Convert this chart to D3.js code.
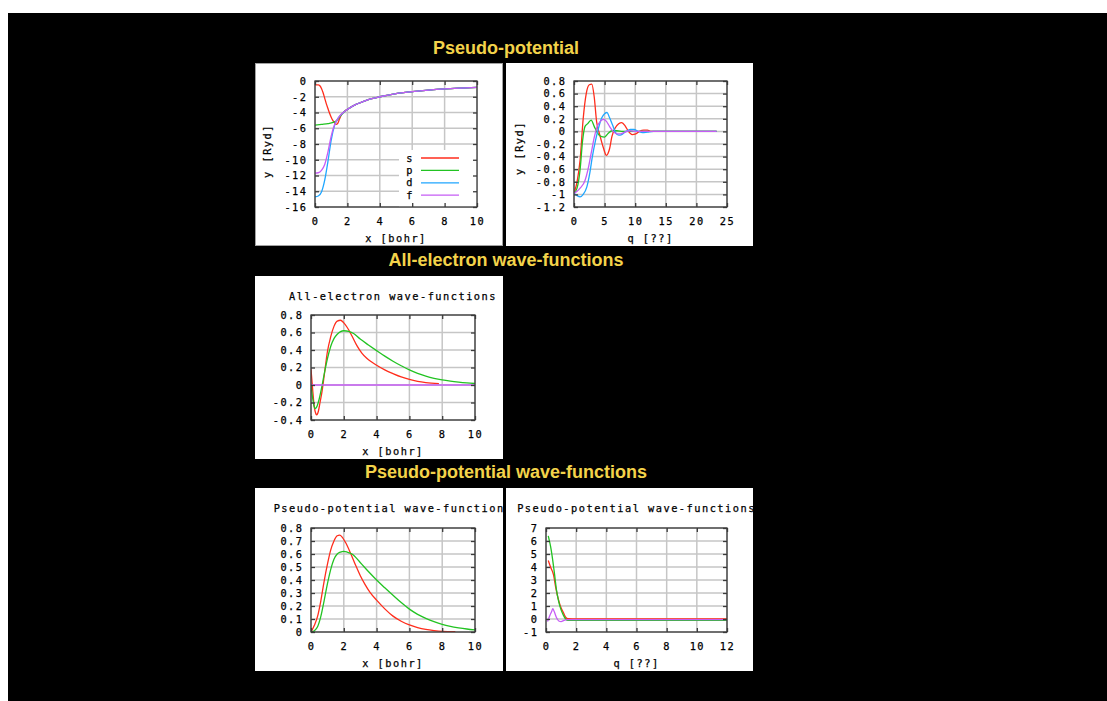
<!DOCTYPE html>
<html>
<head>
<meta charset="utf-8">
<script src="https://cdn.jsdelivr.net/npm/d3@7"></script>
<style>
  html, body { margin: 0; padding: 0; background: #fff; }
  svg { display: block; }
  .mono { font-family: "DejaVu Sans Mono", monospace; font-size: 10.3px; letter-spacing: 1.5px; fill: #000; stroke: #000; stroke-width: 0.25px; }
  .section { font-family: "Liberation Sans", Arial, sans-serif; font-weight: bold; font-size: 18px; fill: #f3d34a; }
</style>
</head>
<body>
<svg id="chart" width="1107" height="701"></svg>
<script>
// ---------- data ----------
// Pseudo-potentials V(r) per angular channel (Ryd), r in bohr
const potentialTail = [[1.8,-3.9],[2.0,-3.6],[2.5,-3.0],[3.0,-2.6],[3.5,-2.25],[4.0,-2.0],[5,-1.6],[6,-1.35],[7,-1.15],[8,-1.0],[9,-0.9],[10,-0.82]];
const potentialS = [[0,-0.5],[0.2,-0.5],[0.3,-0.6],[0.4,-0.95],[0.5,-1.5],[0.6,-2.2],[0.7,-2.9],[0.8,-3.5],[0.9,-4.1],[1.0,-4.6],[1.1,-5.0],[1.2,-5.3],[1.3,-5.5],[1.4,-5.4],[1.5,-4.9],[1.6,-4.4]];
const potentialP = [[0,-5.6],[0.4,-5.5],[0.8,-5.4],[1.2,-5.2],[1.4,-4.9],[1.6,-4.35]];
const potentialD = [[0,-14.7],[0.2,-14.6],[0.4,-14.1],[0.6,-12.6],[0.8,-10.2],[1.0,-7.5],[1.2,-5.7],[1.4,-4.8],[1.6,-4.3]];
const potentialF = [[0,-11.7],[0.2,-11.65],[0.4,-11.35],[0.6,-10.6],[0.8,-9.0],[1.0,-7.0],[1.2,-5.6],[1.4,-4.8],[1.6,-4.25]];
const channelNames = ["s","p","d","f"];
const potentialXTicks = [0,2,4,6,8,10];
const potentialYTicks = [0,-2,-4,-6,-8,-10,-12,-14,-16];

// Fourier transforms of the pseudo-potentials
const potentialQS = [[0,-0.98],[0.5,-0.8],[1,-0.45],[1.5,0.2],[2,0.6],[2.5,0.74],[2.9,0.75],[3.3,0.55],[3.7,0.15],[4.2,-0.05],[4.8,-0.26],[5.3,-0.38],[5.8,-0.28],[6.2,-0.08],[6.7,0.05],[7.3,0.12],[7.8,0.14],[8.4,0.08],[8.9,0.0],[9.5,-0.05],[10.1,-0.04],[10.7,0.0],[11.4,0.02],[12,0.02],[12.6,0.0],[13.5,0.0],[23.3,0.0]];
const potentialQP = [[0,-0.98],[0.5,-0.9],[1,-0.6],[1.4,-0.15],[1.8,0.08],[2.2,0.12],[2.8,0.18],[3.3,0.08],[3.8,-0.02],[4.4,-0.08],[5.0,-0.09],[5.6,-0.03],[6.2,0.01],[7,0.01],[8,0],[23.3,0]];
const potentialQD = [[0,-0.98],[0.5,-1.02],[1,-1.04],[1.5,-1.0],[2.1,-0.88],[2.6,-0.65],[3.0,-0.4],[3.5,-0.15],[4.0,0.05],[4.5,0.21],[5.0,0.28],[5.4,0.3],[5.8,0.22],[6.3,0.1],[6.8,-0.02],[7.3,-0.06],[7.8,-0.05],[8.5,0.0],[9.2,0.03],[9.8,0.03],[10.5,0.0],[11.2,-0.02],[12,-0.01],[13,0],[23.3,0]];
const potentialQF = [[0,-0.98],[0.5,-0.95],[1,-0.9],[1.8,-0.78],[2.3,-0.6],[2.8,-0.35],[3.3,-0.1],[3.8,0.08],[4.3,0.16],[4.8,0.19],[5.3,0.16],[5.8,0.08],[6.4,0.0],[7.0,-0.04],[7.6,-0.04],[8.3,-0.01],[9.2,0.01],[10,0],[23.3,0]];
const potentialQXTicks = [0,5,10,15,20,25];
const potentialQYTicks = [0.8,0.6,0.4,0.2,0,-0.2,-0.4,-0.6,-0.8,-1,-1.2];

// All-electron radial wave-functions
const allElectronS = [[0,0.18],[0.1,-0.05],[0.2,-0.25],[0.3,-0.33],[0.35,-0.34],[0.45,-0.3],[0.55,-0.2],[0.65,-0.1],[0.8,0.1],[1.0,0.38],[1.2,0.55],[1.4,0.67],[1.6,0.73],[1.8,0.74],[2.0,0.71],[2.2,0.66],[2.5,0.56],[2.8,0.45],[3.1,0.365],[3.4,0.305],[3.7,0.262],[4.0,0.225],[4.5,0.172],[5.0,0.13],[5.5,0.092],[6.0,0.063],[6.5,0.042],[7.0,0.028],[7.8,0.015]];
const allElectronP = [[0,0.0],[0.1,-0.15],[0.2,-0.25],[0.25,-0.27],[0.35,-0.25],[0.5,-0.16],[0.65,-0.03],[0.8,0.12],[1.0,0.3],[1.2,0.44],[1.4,0.53],[1.6,0.58],[1.8,0.61],[2.0,0.62],[2.3,0.612],[2.6,0.588],[3.0,0.525],[3.5,0.458],[4.0,0.393],[4.5,0.33],[5.0,0.272],[5.5,0.22],[6.0,0.172],[6.5,0.133],[7.0,0.102],[7.5,0.077],[8.0,0.058],[8.5,0.044],[9,0.033],[9.5,0.024],[10,0.017]];
const allElectronD = [[0,0],[10,0]];
const waveXTicks = [0,2,4,6,8,10];
const allElectronYTicks = [0.8,0.6,0.4,0.2,0,-0.2,-0.4];

// Pseudo wave-functions in real space
const pseudoWaveS = [[0,0],[0.2,0.05],[0.4,0.12],[0.6,0.24],[0.8,0.39],[1.0,0.52],[1.2,0.63],[1.4,0.7],[1.6,0.74],[1.75,0.745],[1.9,0.73],[2.1,0.69],[2.4,0.61],[2.7,0.52],[3.0,0.435],[3.3,0.365],[3.6,0.305],[4.0,0.245],[4.5,0.178],[5.0,0.122],[5.5,0.083],[6.0,0.054],[6.5,0.034],[7.0,0.02],[7.5,0.011],[8.0,0.005],[8.8,0.002]];
const pseudoWaveP = [[0,0],[0.2,0.01],[0.4,0.04],[0.6,0.12],[0.8,0.24],[1.0,0.37],[1.2,0.48],[1.4,0.56],[1.6,0.6],[1.8,0.615],[2.0,0.62],[2.2,0.615],[2.5,0.6],[3.0,0.535],[3.5,0.465],[4.0,0.4],[4.5,0.34],[5.0,0.282],[5.5,0.226],[6.0,0.176],[6.5,0.136],[7.0,0.105],[7.5,0.079],[8.0,0.058],[8.5,0.043],[9,0.032],[9.5,0.023],[10,0.016]];
const pseudoWaveYTicks = [0.8,0.7,0.6,0.5,0.4,0.3,0.2,0.1,0];

// Pseudo wave-functions in reciprocal space
const pseudoWaveQS = [[0.15,4.5],[0.3,4.0],[0.5,3.4],[0.65,2.4],[0.8,1.6],[0.95,1.0],[1.15,0.5],[1.3,0.15],[1.45,0.02],[2,0],[12,0]];
const pseudoWaveQP = [[0.15,6.4],[0.3,5.6],[0.4,4.9],[0.55,3.6],[0.7,2.2],[0.85,1.3],[1.0,0.7],[1.15,0.3],[1.3,0.0],[1.45,-0.1],[2,-0.1],[12,-0.1]];
const pseudoWaveQD = [[0.1,-0.2],[0.25,0.25],[0.38,0.6],[0.45,0.8],[0.55,0.55],[0.7,0.1],[0.85,-0.15],[1.0,-0.2],[1.2,-0.1],[1.4,-0.05],[2,-0.05],[12,-0.05]];
const pseudoWaveQXTicks = [0,2,4,6,8,10,12];
const pseudoWaveQYTicks = [7,6,5,4,3,2,1,0,-1];

const sectionTitles = ["Pseudo-potential", "All-electron wave-functions", "Pseudo-potential wave-functions"];

// ---------- styling ----------
const channelColors = ["#ff2d1c", "#22c322", "#1fa6ff", "#c65cf5"];

const svg = d3.select("#chart");

// black stage
svg.append("rect").attr("x", 8).attr("y", 13).attr("width", 1099).attr("height", 688).attr("fill", "#000");

// section headings
const headingY = [54, 266, 478];
svg.selectAll("text.section").data(sectionTitles).join("text")
  .attr("class", "section")
  .attr("x", 506).attr("y", (d, i) => headingY[i])
  .attr("text-anchor", "middle")
  .text(d => d);

const panels = [
  { box: [255, 63, 248, 183], plot: [315, 81, 477, 207], xDomain: [0, 10], yDomain: [-16, 0],
    xTicks: potentialXTicks, yTicks: potentialYTicks,
    series: [potentialS.concat(potentialTail), potentialP.concat(potentialTail), potentialD.concat(potentialTail), potentialF.concat(potentialTail)],
    xLabel: "x [bohr]", yLabel: "y [Ryd]", yLabelPos: [270.5, 151], legend: true, focus: true },
  { box: [506, 63, 247, 183], plot: [574, 81, 727, 207], xDomain: [0, 25], yDomain: [-1.2, 0.8],
    xTicks: potentialQXTicks, yTicks: potentialQYTicks,
    series: [potentialQS, potentialQP, potentialQD, potentialQF],
    xLabel: "q [??]", yLabel: "y [Ryd]", yLabelPos: [522.5, 148] },
  { box: [255, 276, 248, 183], plot: [311, 315, 475, 420], xDomain: [0, 10], yDomain: [-0.4, 0.8],
    xTicks: waveXTicks, yTicks: allElectronYTicks,
    series: [allElectronS, allElectronP, null, allElectronD],
    xLabel: "x [bohr]", title: "All-electron wave-functions", titleY: 299.5 },
  { box: [255, 488, 248, 183], plot: [311, 528, 475, 632], xDomain: [0, 10], yDomain: [0, 0.8],
    xTicks: waveXTicks, yTicks: pseudoWaveYTicks,
    series: [pseudoWaveS, pseudoWaveP],
    xLabel: "x [bohr]", title: "Pseudo-potential wave-functions", titleY: 511.5 },
  { box: [506, 488, 247, 183], plot: [546, 528, 727, 632], xDomain: [0, 12], yDomain: [-1, 7],
    xTicks: pseudoWaveQXTicks, yTicks: pseudoWaveQYTicks,
    series: [pseudoWaveQS, pseudoWaveQP, null, pseudoWaveQD],
    xLabel: "q [??]", title: "Pseudo-potential wave-functions", titleY: 511.5 }
];

panels.forEach((p, idx) => {
  const [bx, by, bw, bh] = p.box;
  const [left, top, right, bottom] = p.plot;
  const clipBox = "panel-clip-" + idx, clipPlot = "plot-clip-" + idx;
  const defs = svg.append("defs");
  defs.append("clipPath").attr("id", clipBox).append("rect").attr("x", bx).attr("y", by).attr("width", bw).attr("height", bh);
  defs.append("clipPath").attr("id", clipPlot).append("rect").attr("x", left).attr("y", top).attr("width", right - left).attr("height", bottom - top);

  const g = svg.append("g").attr("clip-path", `url(#${clipBox})`);
  g.append("rect").attr("x", bx).attr("y", by).attr("width", bw).attr("height", bh).attr("fill", "#fff");

  const x = d3.scaleLinear().domain(p.xDomain).range([left, right]);
  const y = d3.scaleLinear().domain(p.yDomain).range([bottom, top]);

  // grid
  const grid = g.append("g").attr("stroke", "#c6c6c6").attr("stroke-width", 1.5);
  grid.selectAll("line.gx").data(p.xTicks).join("line").attr("class", "gx")
    .attr("x1", d => x(d)).attr("x2", d => x(d)).attr("y1", top).attr("y2", bottom);
  grid.selectAll("line.gy").data(p.yTicks).join("line").attr("class", "gy")
    .attr("x1", left).attr("x2", right).attr("y1", d => y(d)).attr("y2", d => y(d));

  // opaque key box
  if (p.legend) {
    g.append("rect").attr("x", 399).attr("y", 150).attr("width", right - 399).attr("height", bottom - 150).attr("fill", "#fff");
  }

  // curves
  const line = d3.line().x(d => x(d[0])).y(d => y(d[1])).curve(d3.curveMonotoneX);
  const curves = g.append("g").attr("clip-path", `url(#${clipPlot})`).attr("fill", "none").attr("stroke-width", 1.3);
  p.series.forEach((s, i) => {
    if (!s) return;
    curves.append("path").attr("d", line(s)).attr("stroke", channelColors[i]);
  });

  // key entries
  if (p.legend) {
    const key = g.append("g");
    channelNames.forEach((name, i) => {
      const ky = 158 + i * 12.4;
      key.append("text").attr("class", "mono").attr("x", 414).attr("y", ky + 3.6).attr("text-anchor", "end").text(name);
      key.append("line").attr("x1", 421).attr("x2", 459).attr("y1", ky).attr("y2", ky)
        .attr("stroke", channelColors[i]).attr("stroke-width", 1.3);
    });
  }

  // frame
  g.append("rect").attr("x", left).attr("y", top).attr("width", right - left).attr("height", bottom - top)
    .attr("fill", "none").attr("stroke", "#3a3a3a").attr("stroke-width", 1.3);

  // axes with inward ticks, mirrored on top/right
  const fmt = d => String(d);
  const styleAxis = sel => {
    sel.select(".domain").remove();
    sel.selectAll(".tick line").attr("stroke", "#3a3a3a").attr("stroke-width", 1.3);
    sel.selectAll(".tick text").attr("class", "mono").attr("fill", null).attr("font-size", null).attr("font-family", null);
    sel.attr("font-size", null).attr("font-family", null);
  };
  g.append("g").attr("transform", `translate(0,${bottom})`)
    .call(d3.axisBottom(x).tickValues(p.xTicks).tickSize(-4).tickPadding(10.4).tickFormat(fmt)).call(styleAxis);
  g.append("g").attr("transform", `translate(${left},0)`)
    .call(d3.axisLeft(y).tickValues(p.yTicks).tickSize(-4).tickPadding(7.5).tickFormat(fmt)).call(styleAxis);
  g.append("g").attr("transform", `translate(0,${top})`)
    .call(d3.axisTop(x).tickValues(p.xTicks).tickSize(-4).tickFormat("")).call(styleAxis);
  g.append("g").attr("transform", `translate(${right},0)`)
    .call(d3.axisRight(y).tickValues(p.yTicks).tickSize(-4).tickFormat("")).call(styleAxis);

  // axis labels and title
  g.append("text").attr("class", "mono").attr("x", (left + right) / 2).attr("y", bottom + 35)
    .attr("text-anchor", "middle").text(p.xLabel);
  if (p.yLabel) {
    g.append("text").attr("class", "mono")
      .attr("transform", `translate(${p.yLabelPos[0]},${p.yLabelPos[1]}) rotate(-90)`)
      .attr("text-anchor", "middle").text(p.yLabel);
  }
  if (p.title) {
    g.append("text").attr("class", "mono").attr("x", (left + right) / 2).attr("y", p.titleY)
      .attr("text-anchor", "middle").text(p.title);
  }

  if (p.focus) {
    svg.append("rect").attr("x", bx + 0.5).attr("y", by + 0.5).attr("width", bw - 1).attr("height", bh - 1)
      .attr("fill", "none").attr("stroke", "#444").attr("stroke-dasharray", "1,1");
  }
});
</script>
</body>
</html>
